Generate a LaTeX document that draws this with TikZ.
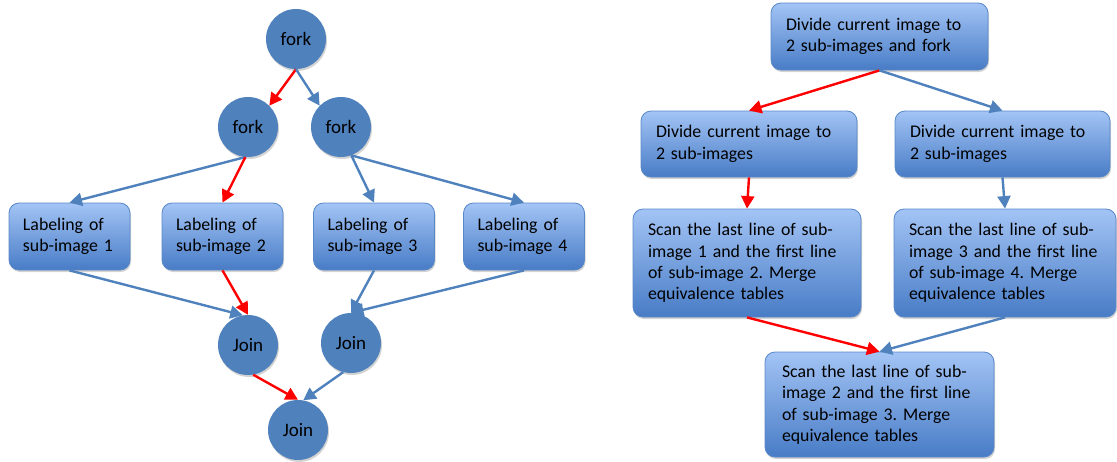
\documentclass[tikz,border=0pt]{standalone}
\usepackage{fontspec}
\setmainfont{Carlito}
\frenchspacing
\usetikzlibrary{arrows.meta,shadows}
\definecolor{nodeblue}{RGB}{79,129,189}
\definecolor{boxtop}{RGB}{163,196,245}
\definecolor{boxbot}{RGB}{72,124,198}
\definecolor{boxedge}{RGB}{88,136,200}
\definecolor{flowblue}{RGB}{79,129,189}
\definecolor{flowred}{RGB}{255,0,0}
\tikzset{
  circ/.style={circle, fill=nodeblue, minimum size=60pt, inner sep=0pt,
    font=\fontsize{19}{22}\selectfont,
    drop shadow={opacity=0.35, shadow xshift=1pt, shadow yshift=-2pt}},
  box/.style={draw=boxedge, line width=0.8pt, rounded corners=10pt,
    top color=boxtop, bottom color=boxbot, align=left,
    inner xsep=#1, inner ysep=0pt,
    font=\fontsize{17.8}{21.5}\selectfont,
    drop shadow={opacity=0.35, shadow xshift=1pt, shadow yshift=-2pt}},
  box/.default=14pt,
  flow/.style={line width=2.4pt, draw=flowblue,
    -{Triangle[length=12.5pt,width=13pt]}},
  crit/.style={flow, draw=flowred},
}
\begin{document}
\begin{tikzpicture}[x=1pt,y=-1pt]
\useasboundingbox (0,0) rectangle (1117,461);

% fork / join graph
\node[circ] (f0) at (296,39) {fork};
\node[circ] (f1) at (248,127) {fork};
\node[circ] (f2) at (341,127) {fork};

\node[box, text width=93pt, minimum height=67pt] (b1) at (69.5,236.5) {Labeling of\\sub-image 1};
\node[box, text width=93pt, minimum height=67pt] (b2) at (222.5,236.5) {Labeling of\\sub-image 2};
\node[box, text width=93pt, minimum height=67pt] (b3) at (374,236.5) {Labeling of\\sub-image 3};
\node[box, text width=93pt, minimum height=67pt] (b4) at (524,236.5) {Labeling of\\sub-image 4};

\node[circ] (j1) at (248,345) {Join};
\node[circ] (j2) at (351,343) {Join};
\node[circ] (j3) at (298,430) {Join};

\draw[crit] (f0.south) -- (f1.north east);
\draw[flow] (f0.south) -- (f2.north west);
\draw[flow] (f1.-95) -- (b1.north);
\draw[crit] (f1.-95) -- (b2.north);
\draw[flow] (f2.-70) -- (b3.north);
\draw[flow] (f2.-70) -- (b4.north);
\draw[flow] (b1.south) -- (j1.100);
\draw[crit] (b2.south) -- (j1.north);
\draw[flow] (b3.south) -- (j2.north);
\draw[flow] (b4.south) -- (j2.north);
\draw[crit] (j1.-80) -- (j3.north);
\draw[flow] (j2.-105) -- (j3.80);

% divide / merge graph
\node[box=15pt, text width=187pt, minimum height=67pt] (t) at (879.5,36.5) {Divide current image to\\2 sub-images and fork};
\node[box=15pt, text width=186pt, minimum height=66pt] (m1) at (749,144) {Divide current image to\\2 sub-images};
\node[box=15pt, text width=185pt, minimum height=66pt] (m2) at (1002.5,144) {Divide current image to\\2 sub-images};

\node[box=15pt, text width=198pt, minimum height=108pt] (s1) at (747,263) {Scan the last line of sub-\\image 1 and the first line\\of sub-image 2. Merge\\equivalence tables};
\node[box=15pt, text width=192pt, minimum height=108pt] (s2) at (1005,263) {Scan the last line of sub-\\image 3 and the first line\\of sub-image 4. Merge\\equivalence tables};
\node[box=17pt, text width=195pt, minimum height=105pt] (s3) at (879.5,404.5) {Scan the last line of sub-\\image 2 and the first line\\of sub-image 3. Merge\\equivalence tables};

\draw[crit] (t.south) -- (m1.north);
\draw[flow] (t.south) -- (m2.north);
\draw[crit] (m1.south) -- (s1.north);
\draw[flow] (m2.south) -- (s2.north);
\draw[crit] (s1.south) -- (s3.north);
\draw[flow] (s2.south) -- (s3.north);
\end{tikzpicture}
\end{document}
